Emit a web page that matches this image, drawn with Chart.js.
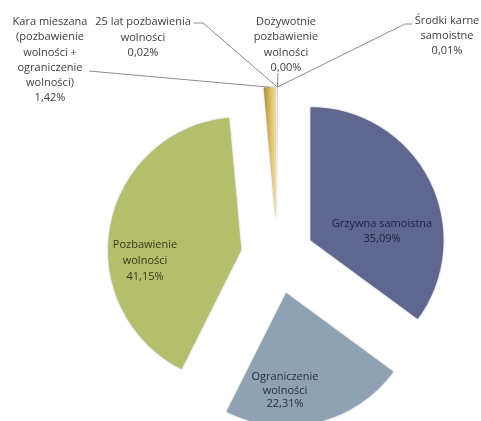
<!DOCTYPE html>
<html>
<head>
<meta charset="utf-8">
<script src="https://cdn.jsdelivr.net/npm/chart.js@4"></script>
<style>
  body { margin: 0; background: #fff; }
  #chart { width: 481px; height: 421px; }
</style>
</head>
<body>
<div id="chart"><canvas width="481" height="421"></canvas></div>
<script>
const categories = [
  ['Grzywna samoistna'],
  ['Ograniczenie', 'wolności'],
  ['Pozbawienie', 'wolności'],
  ['Kara mieszana', '(pozbawienie', 'wolności +', 'ograniczenie', 'wolności)'],
  ['25 lat pozbawienia', 'wolności'],
  ['Dożywotnie', 'pozbawienie', 'wolności'],
  ['Środki karne', 'samoistne']
];
const shares = [35.09, 22.31, 41.15, 1.42, 0.02, 0.00, 0.01];

const colors = ['#5f6791', '#8ea2b4', '#b5bf6b', '#d8b85f', '#c0504d', '#8064a2', '#4bacc6'];
const explode = 37;

// where each label block sits; "lead" = leader line start (outside labels only)
const labelPos = [
  { x: 382, y: 224, gap: 15, color: '#1d2340' },
  { x: 285, y: 377, gap: 13.5, color: '#26323f' },
  { x: 145, y: 245, gap: 16, color: '#33371a' },
  { x: 50, y: 22, gap: 15.2, color: '#404040', lead: [[89, 71]] },
  { x: 143, y: 22, gap: 15.5, color: '#404040', lead: [[194, 23], [203, 23]] },
  { x: 286, y: 22, gap: 15.3, color: '#404040', lead: [[278, 73]] },
  { x: 447, y: 21, gap: 15, color: '#404040', lead: [[412, 24], [405, 24]] }
];

const pct = (v) => v.toFixed(2).replace('.', ',') + '%';

const sliceColor = (c) => {
  const a = c.chart.chartArea;
  if (c.dataIndex !== 3 || !a) return colors[c.dataIndex];
  const cx = (a.left + a.right) / 2;
  const g = c.chart.ctx.createLinearGradient(cx - 13, 0, cx + 1, 0);
  g.addColorStop(0, '#a8872f');
  g.addColorStop(0.55, '#ddbd66');
  g.addColorStop(1, '#f4e4a8');
  return g;
};

const explodePlugin = {
  id: 'explode',
  beforeDatasetDraw(chart, args) {
    const ctx = chart.ctx;
    args.meta.data.forEach((arc) => {
      const mid = (arc.startAngle + arc.endAngle) / 2;
      ctx.save();
      ctx.translate(Math.cos(mid) * explode, Math.sin(mid) * explode);
      ctx.shadowColor = 'rgba(0,0,0,0.35)';
      ctx.shadowBlur = 2;
      arc.draw(ctx);
      ctx.restore();
    });
    return false;
  },
  afterDraw(chart) {
    const ctx = chart.ctx;
    const arcs = chart.getDatasetMeta(0).data;
    ctx.save();
    arcs.forEach((arc, i) => {
      const p = labelPos[i];
      if (p.lead) {
        const mid = (arc.startAngle + arc.endAngle) / 2;
        const r = arc.outerRadius + explode;
        ctx.beginPath();
        ctx.moveTo(p.lead[0][0], p.lead[0][1]);
        p.lead.slice(1).forEach((q) => ctx.lineTo(q[0], q[1]));
        ctx.lineTo(arc.x + Math.cos(mid) * r, arc.y + Math.sin(mid) * r);
        ctx.strokeStyle = '#8c8c8c';
        ctx.lineWidth = 1;
        ctx.stroke();
      }
      const lines = categories[i].concat([pct(shares[i])]);
      ctx.fillStyle = p.color;
      ctx.font = '11px "Open Sans"';
      ctx.textAlign = 'center';
      ctx.textBaseline = 'middle';
      lines.forEach((t, k) => ctx.fillText(t, p.x, p.y + k * p.gap));
    });
    ctx.restore();
  }
};

const config = {
  type: 'pie',
  data: {
    labels: categories.map((c) => c.join(' ')),
    datasets: [{
      data: shares,
      backgroundColor: sliceColor,
      borderWidth: 0,
      radius: 133
    }]
  },
  options: {
    responsive: false,
    animation: false,
    radius: 133,
    layout: { padding: { left: 74, top: 93, right: 0, bottom: 0 } },
    plugins: {
      legend: { display: false },
      tooltip: { enabled: false }
    }
  },
  plugins: [explodePlugin]
};

new Chart(document.querySelector('#chart canvas').getContext('2d'), config);
</script>
</body>
</html>
